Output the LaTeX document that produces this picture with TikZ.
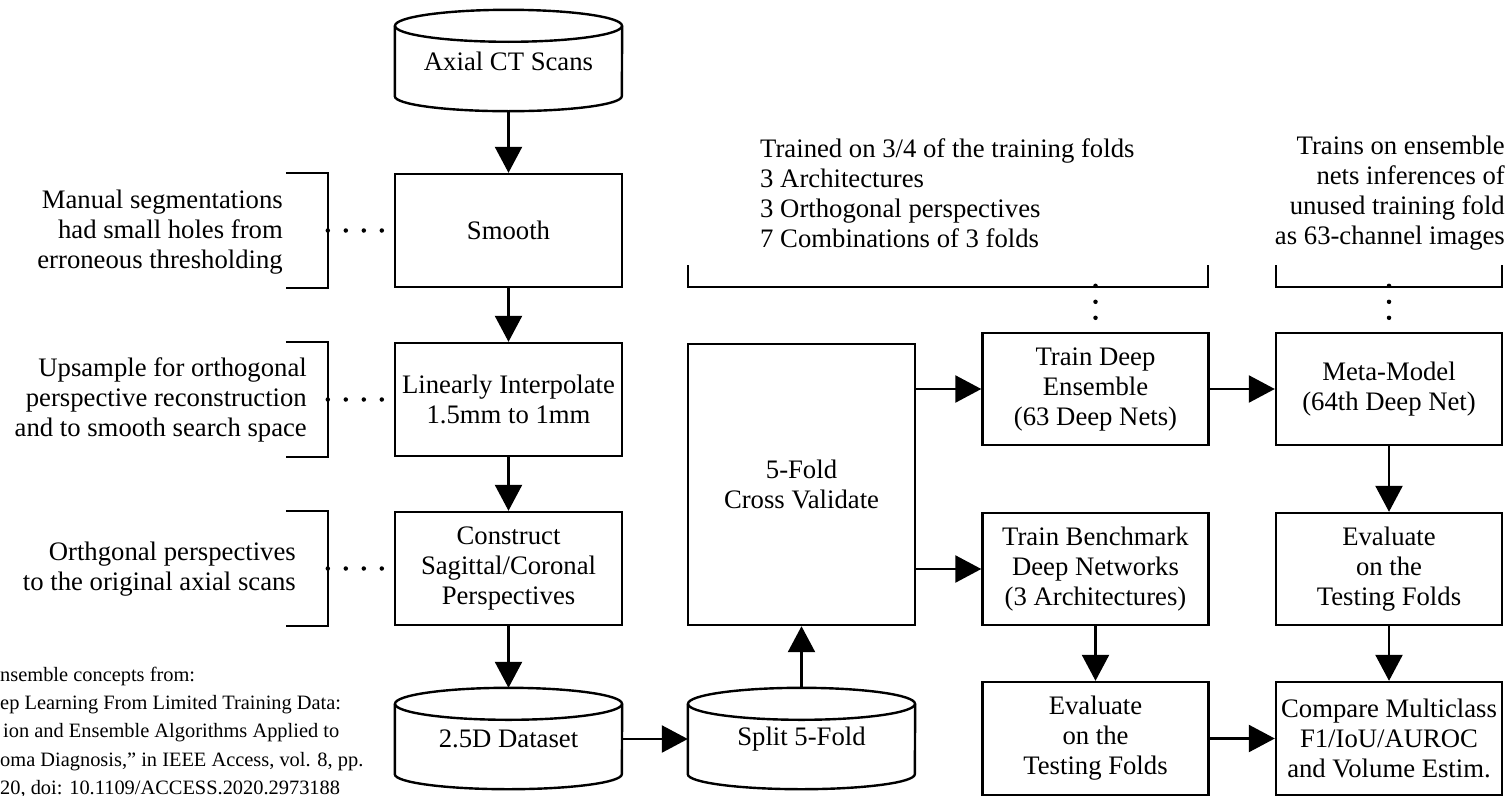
\documentclass[tikz,border=0pt]{standalone}
\usepackage{fontspec}
\setmainfont{Liberation Serif}
\usetikzlibrary{arrows.meta}
\begin{document}
\begin{tikzpicture}[x=1pt,y=-1pt,
  every node/.style={inner sep=0pt, font=\fontsize{26.7}{30}\selectfont},
  box/.style={draw, line width=2.4pt, minimum width=226pt, minimum height=113pt, align=center},
  cyl/.style={minimum width=227pt, minimum height=102pt, align=center},
  arr/.style={line width=2.4pt, -{Triangle[length=26pt,width=27pt]}},
  brk/.style={line width=2.4pt},
  dotsh/.style={line width=4.5pt, line cap=round, dash pattern=on 0pt off 18pt},
  dotsv/.style={line width=4.5pt, line cap=round, dash pattern=on 0pt off 16pt},
  note/.style={align=right, anchor=east},
  small/.style={font=\fontsize{20.4}{28.3}\selectfont, anchor=base west}
]
\useasboundingbox (0,0) rectangle (1511,795);

% ---- left column ----
\node[cyl] (axial) at (508.5,61) {Axial CT Scans};
\node[box, minimum width=227pt] (smooth) at (508.5,230.5) {Smooth};
\node[box, minimum width=227pt] (interp) at (508.5,399.5) {Linearly Interpolate\\1.5mm to 1mm};
\node[box, minimum width=227pt] (construct) at (508.5,568.5) {Construct\\Sagittal/Coronal\\Perspectives};
\node[cyl] (dataset) at (508.5,739) {2.5D Dataset};

% ---- second column ----
\node[cyl] (split) at (801.5,739) {Split 5-Fold};
\node[box, minimum width=227pt, minimum height=281pt] (cv) at (801.5,484.5) {5-Fold\\Cross Validate};

% ---- third and fourth columns ----
\node[box, minimum height=112pt] (ens) at (1095.5,389) {Train Deep\\Ensemble\\(63 Deep Nets)};
\node[box, minimum height=112pt] (bench) at (1095.5,569) {Train Benchmark\\Deep Networks\\(3 Architectures)};
\node[box] (evalL) at (1095.5,738.5) {Evaluate\\on the\\Testing Folds};
\node[box, minimum height=112pt] (meta) at (1389,389) {Meta-Model\\(64th Deep Net)};
\node[box, minimum height=112pt] (evalR) at (1389,569) {Evaluate\\on the\\Testing Folds};
\node[box] (compare) at (1389,738.5) {Compare Multiclass\\F1/IoU/AUROC\\and Volume Estim.};

% ---- cylinders ----
\foreach \n in {axial,dataset,split}{
  \draw[brk] ([yshift=-16pt]\n.north west) -- ([yshift=16pt]\n.south west)
     arc[start angle=180,end angle=360,x radius=113.5pt,y radius=15pt]
     -- ([yshift=-16pt]\n.north east);
  \draw[brk] ([yshift=-16pt]\n.north) ellipse[x radius=113.5pt, y radius=16pt];
}

% ---- arrows ----
\draw[arr] (axial.south) -- (smooth.north);
\draw[arr] (smooth.south) -- (interp.north);
\draw[arr] (interp.south) -- (construct.north);
\draw[arr] (construct.south) -- (dataset.north);
\draw[arr] (dataset.east) -- (split.west);
\draw[arr] (split.north) -- (cv.south);
\draw[arr] (cv.east |- ens.west) -- (ens.west);
\draw[arr] (cv.east |- bench.west) -- (bench.west);
\draw[arr] (ens.east) -- (meta.west);
\draw[arr] (meta.south) -- (evalR.north);
\draw[arr] (bench.south) -- (evalL.north);
\draw[arr] (evalR.south) -- (compare.north);
\draw[arr] (evalL.east) -- (compare.west);

% ---- left notes with brackets ----
\node[note] (n1) at (283,232) {Manual segmentations\\had small holes from\\erroneous thresholding};
\node[note] (n2) at (307,400) {Upsample for orthogonal\\perspective reconstruction\\and to smooth search space};
\node[note] (n3) at (296,569) {Orthgonal perspectives\\to the original axial scans};
\foreach \b in {smooth,interp,construct}{
  \draw[brk] ([xshift=-108pt]\b.north west) -- ([xshift=-66pt]\b.north west)
     -- ([xshift=-66pt]\b.south west) -- ([xshift=-108pt]\b.south west);
  \draw[dotsh] ([xshift=-66pt]\b.west) -- (\b.west);
}

% ---- top notes with brackets ----
\node[anchor=west, align=left] (t1) at (760,193.5) {Trained on 3/4 of the training folds\\3 Architectures\\3 Orthogonal perspectives\\7 Combinations of 3 folds};
\node[anchor=east, align=right] (t2) at (1505,193.5) {Trains on ensemble\\nets inferences of\\unused training fold\\as 63-channel images};
\draw[brk] (688,265) -- (688,287) -- (1208,287) -- (1208,265);
\draw[brk] (1276,265) -- (1276,287) -- (1502,287) -- (1502,265);
\draw[dotsv] ([yshift=46pt]ens.north) -- (ens.north);
\draw[dotsv] ([yshift=46pt]meta.north) -- (meta.north);

% ---- bottom-left reference (cut by the frame) ----
\node[small] (r1) at (0,681) {nsemble concepts from:};
\node[small] (r2) at (0,709.3) {ep Learning From Limited Training Data:};
\node[small] (r3) at (3,737.6) {ion and Ensemble Algorithms Applied to};
\node[small] (r4) at (0,766) {oma Diagnosis," in IEEE Access, vol. 8, pp.};
\node[small] (r5) at (0,794) {20, doi: 10.1109/ACCESS.2020.2973188};
\end{tikzpicture}
\end{document}
